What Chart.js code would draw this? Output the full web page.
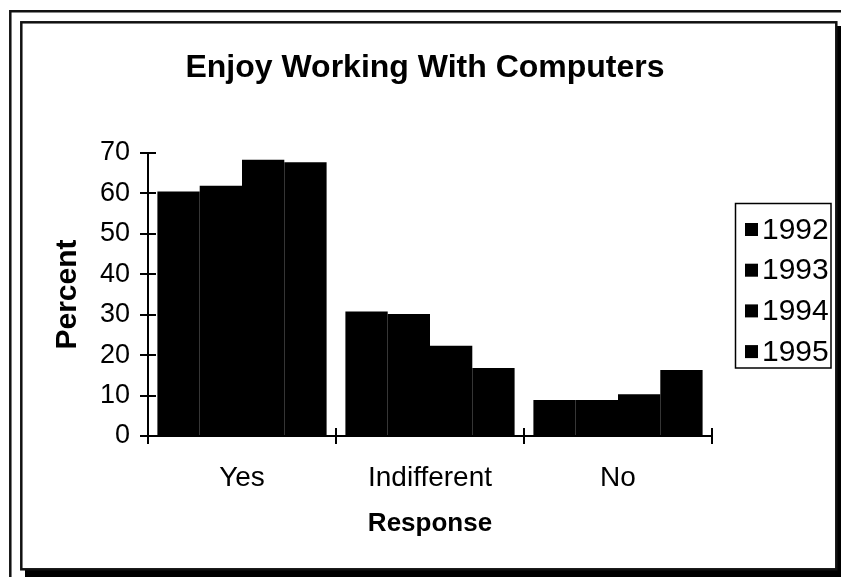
<!DOCTYPE html>
<html>
<head>
<meta charset="utf-8">
<script src="https://cdn.jsdelivr.net/npm/chart.js@4/dist/chart.umd.min.js"></script>
<style>
html,body{margin:0;padding:0;background:#fff;}
#wrap{width:841px;height:577px;position:relative;}
</style>
</head>
<body>
<div id="wrap"><canvas id="c" width="841" height="577"></canvas></div>
<script>
const categories = ['Yes', 'Indifferent', 'No'];
const seriesLabels = ['1992', '1993', '1994', '1995'];
const v1992 = [60.5, 30.8, 8.9];
const v1993 = [61.9, 30.2, 8.9];
const v1994 = [68.3, 22.3, 10.3];
const v1995 = [67.7, 16.8, 16.3];
const yTickValues = [0, 10, 20, 30, 40, 50, 60, 70];
const chartTitle = 'Enjoy Working With Computers';
const xTitle = 'Response';
const yTitle = 'Percent';

const FONT = 'Liberation Sans, Arial, Helvetica, sans-serif';

const framePlugin = {
  id: 'frame',
  beforeDraw(chart) {
    const ctx = chart.ctx;
    ctx.save();
    ctx.fillStyle = '#fff';
    ctx.fillRect(0, 0, chart.width, chart.height);
    ctx.strokeStyle = '#111';
    ctx.lineWidth = 2.5;
    ctx.beginPath();
    ctx.moveTo(10.3, 577);
    ctx.lineTo(10.3, 11.3);
    ctx.lineTo(841, 11.3);
    ctx.stroke();
    ctx.fillStyle = '#000';
    ctx.fillRect(836, 26, 5, 551);
    ctx.fillRect(25, 569, 816, 8);
    ctx.strokeStyle = '#111';
    ctx.lineWidth = 2.5;
    ctx.strokeRect(21.3, 22.3, 815, 547);
    ctx.restore();
  },
  afterDraw(chart) {
    const ctx = chart.ctx;
    const x = chart.scales.x, y = chart.scales.y;
    ctx.save();
    ctx.strokeStyle = '#000';
    ctx.lineWidth = 2;
    ctx.beginPath();
    yTickValues.forEach(v => {
      const py = Math.round(y.getPixelForValue(v));
      ctx.moveTo(x.left, py);
      ctx.lineTo(x.left + 8, py);
    });
    for (let i = 0; i <= categories.length; i++) {
      const px = Math.round(x.getPixelForValue(i - 0.5));
      ctx.moveTo(px, y.bottom);
      ctx.lineTo(px, y.bottom - 8);
    }
    ctx.stroke();
    ctx.fillStyle = '#000';
    ctx.font = 'bold 32px ' + FONT;
    ctx.textAlign = 'center';
    ctx.textBaseline = 'middle';
    ctx.fillText(chartTitle, 425, 68);
    const lx = 735.5, ly = 203.5, lw = 95.5, lh = 164.5;
    ctx.lineWidth = 1.5;
    ctx.strokeStyle = '#000';
    ctx.strokeRect(lx, ly, lw, lh);
    ctx.beginPath();
    ctx.rect(lx, ly, lw, lh);
    ctx.clip();
    ctx.font = '30px ' + FONT;
    ctx.textAlign = 'left';
    ctx.textBaseline = 'middle';
    chart.data.datasets.forEach((ds, i) => {
      const cy = 229.5 + i * 40.7;
      ctx.fillStyle = ds.backgroundColor;
      ctx.fillRect(745, cy - 6.5, 13, 13);
      ctx.fillStyle = '#000';
      ctx.fillText(ds.label, 762, cy + 1);
    });
    ctx.restore();
  }
};

const series = [v1992, v1993, v1994, v1995];
new Chart(document.getElementById('c'), {
  type: 'bar',
  data: {
    labels: categories,
    datasets: seriesLabels.map((lab, i) => ({
      label: lab,
      data: series[i],
      backgroundColor: '#000',
      borderWidth: 0,
      categoryPercentage: 0.9,
      barPercentage: 1.0
    }))
  },
  options: {
    responsive: false,
    animation: false,
    events: [],
    layout: { padding: { top: 153, right: 129, bottom: 0, left: 0 } },
    plugins: {
      legend: { display: false },
      title: { display: false },
      tooltip: { enabled: false }
    },
    scales: {
      x: {
        afterFit(s) { s.height = 141; },
        grid: { display: true, drawOnChartArea: false, drawTicks: true, tickLength: 8, lineWidth: 2, color: '#000', offset: true },
        border: { display: true, color: '#000', width: 2 },
        ticks: { color: '#000', font: { family: FONT, size: 28 }, padding: 17, maxRotation: 0 },
        title: { display: true, text: xTitle, color: '#000', font: { family: FONT, size: 26, weight: 'bold' }, padding: { top: 0, bottom: 38 } }
      },
      y: {
        min: 0, max: 70,
        afterFit(s) { s.width = 148; },
        afterBuildTicks(s) { s.ticks = yTickValues.map(v => ({ value: v })); },
        grid: { display: true, drawOnChartArea: false, drawTicks: true, tickLength: 8, lineWidth: 2, color: '#000' },
        border: { display: true, color: '#000', width: 2 },
        ticks: { color: '#000', font: { family: FONT, size: 27 }, padding: 10 },
        title: { display: true, text: yTitle, color: '#000', font: { family: FONT, size: 30, weight: 'bold' }, padding: { top: 50, bottom: 0 } }
      }
    }
  },
  plugins: [framePlugin]
});
</script>
</body>
</html>
